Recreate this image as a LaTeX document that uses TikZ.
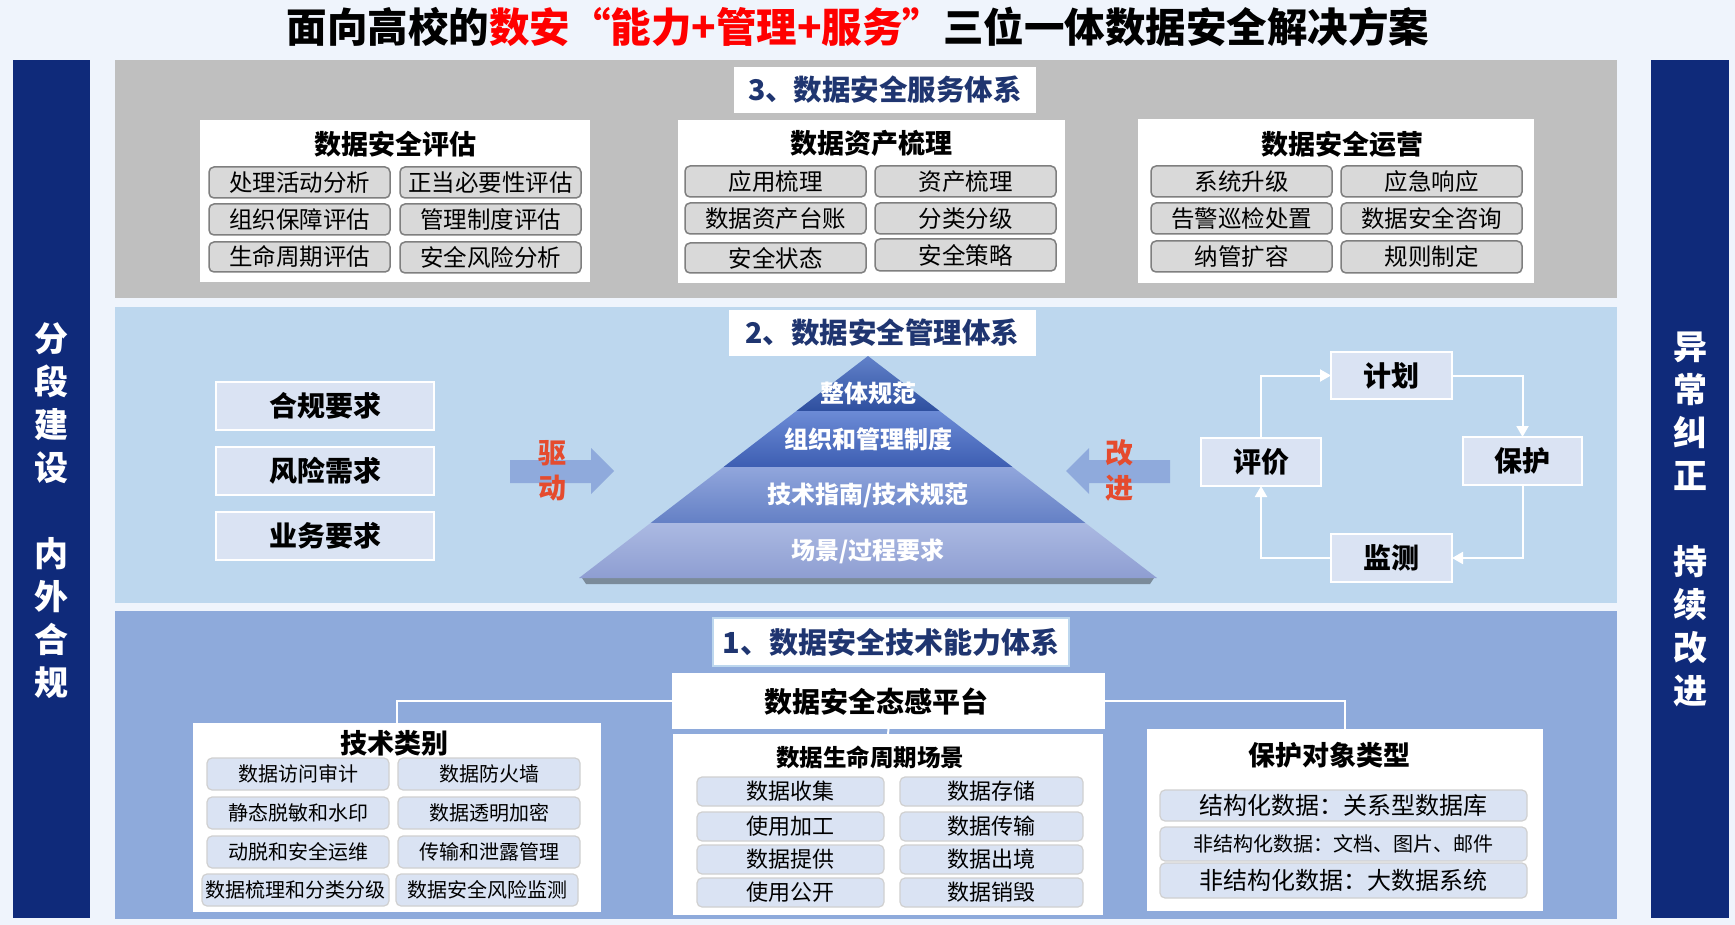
\documentclass[tikz,border=0pt]{standalone}
\usepackage{fontspec}
\setmainfont{Noto Sans CJK SC}
\usetikzlibrary{arrows.meta}
\definecolor{bgc}{HTML}{EFF4FC}
\definecolor{barc}{HTML}{0F2A7A}
\definecolor{topp}{HTML}{BFBFBF}
\definecolor{midp}{HTML}{BDD7EE}
\definecolor{botp}{HTML}{8EAADB}
\definecolor{pillgray}{HTML}{D9D9D9}
\definecolor{pillborder}{HTML}{7F7F7F}
\definecolor{lightbox}{HTML}{DAE3F3}
\definecolor{pillline}{HTML}{D0D0D0}
\definecolor{navy}{HTML}{1F3570}
\definecolor{titlered}{HTML}{FF0000}
\definecolor{drivered}{HTML}{E54B2E}
\definecolor{arrowc}{HTML}{8FAADC}
\definecolor{pyrA}{HTML}{6282CA}
\definecolor{pyrB}{HTML}{2E4F9F}
\definecolor{pyrC}{HTML}{6C8BD6}
\definecolor{pyrD}{HTML}{3D5EB2}
\definecolor{pyrE}{HTML}{91A6DC}
\definecolor{pyrF}{HTML}{6480C5}
\definecolor{pyrG}{HTML}{ABB9E2}
\definecolor{pyrH}{HTML}{8E9ED2}
\newcommand\mkbox[7]{\node[#6, minimum width={#4-#2}, minimum height={#5-#3}] (#1) at ({(#2+#4)/2},{(#3+#5)/2}) {#7};}
\begin{document}
\begin{tikzpicture}[x=1pt,y=-1pt,
  plain/.style={rectangle, inner sep=0pt, outer sep=0pt},
  whitebox/.style={plain, fill=white},
  secttitle/.style={plain, fill=white, text=navy, font=\bfseries\fontsize{28.5}{30}\selectfont},
  boxtitle/.style={inner sep=0pt, font=\bfseries\fontsize{27}{30}\selectfont},
  graypill/.style={plain, rounded corners=5pt, fill=pillgray, draw=pillborder, line width=1.5pt, font=\fontsize{23.5}{25}\selectfont},
  bluepill/.style={plain, rounded corners=5pt, fill=lightbox, draw=pillline, line width=1.2pt, font=\fontsize{20}{22}\selectfont},
  lifepill/.style={bluepill, font=\fontsize{22}{24}\selectfont},
  reqbox/.style={plain, fill=lightbox, draw=white, line width=2pt, font=\bfseries\fontsize{28}{30}\selectfont},
  pyrtext/.style={inner sep=0pt, text=white, font=\bfseries\fontsize{24}{26}\selectfont},
  redtext/.style={inner sep=0pt, text=drivered, font=\bfseries\fontsize{28}{30}\selectfont},
  cyc/.style={draw=white, line width=2pt, -{Triangle[length=11pt,width=12pt]}},
  conn/.style={draw=white, line width=2pt},
  sidetext/.style={inner sep=0pt, text=white, align=center, font=\bfseries\fontsize{34}{43}\selectfont}
]
\useasboundingbox (0,0) rectangle (1735,925);
\fill[bgc] (0,0) rectangle (1735,925);

% title
\node[inner sep=0pt, font=\bfseries\fontsize{40.5}{44}\selectfont] (title) at (858,27) {面向高校的{\color{titlered}数安“能力+管理+服务”}三位一体数据安全解决方案};

% side bars
\mkbox{leftbar}{13}{60}{90}{918}{plain, fill=barc}{}
\mkbox{rightbar}{1651}{60}{1729}{918}{plain, fill=barc}{}
\node[sidetext] (lefttext) at (51.5,511) {分\\段\\建\\设\\[43pt]内\\外\\合\\规};
\node[sidetext] (righttext) at (1690,519.5) {异\\常\\纠\\正\\[43pt]持\\续\\改\\进};

% panels
\mkbox{toppanel}{115}{60}{1617}{298}{plain, fill=topp}{}
\mkbox{midpanel}{115}{307}{1617}{603}{plain, fill=midp}{}
\mkbox{botpanel}{115}{611}{1617}{919}{plain, fill=botp}{}

% ===== 3 service =====
\mkbox{sec3}{734}{67}{1036}{113}{secttitle}{3、数据安全服务体系}

\mkbox{evalbox}{200}{120}{590}{282}{whitebox}{}
\node[boxtitle] (evaltitle) at (395,144) {数据安全评估};
\mkbox{ev1}{209}{167}{390}{198}{graypill}{处理活动分析}
\mkbox{ev2}{400}{167}{581}{198}{graypill}{正当必要性评估}
\mkbox{ev3}{209}{204}{390}{235}{graypill}{组织保障评估}
\mkbox{ev4}{400}{204}{581}{235}{graypill}{管理制度评估}
\mkbox{ev5}{209}{242}{390}{272}{graypill}{生命周期评估}
\mkbox{ev6}{400}{242}{581}{273}{graypill}{安全风险分析}

\mkbox{assetbox}{678}{120}{1065}{283}{whitebox}{}
\node[boxtitle] (assettitle) at (871,143) {数据资产梳理};
\mkbox{as1}{685}{166}{866}{197}{graypill}{应用梳理}
\mkbox{as2}{875}{166}{1056}{197}{graypill}{资产梳理}
\mkbox{as3}{685}{203}{866}{234}{graypill}{数据资产台账}
\mkbox{as4}{875}{203}{1056}{234}{graypill}{分类分级}
\mkbox{as5}{685}{243}{866}{273}{graypill}{安全状态}
\mkbox{as6}{875}{239}{1056}{271}{graypill}{安全策略}

\mkbox{opbox}{1138}{119}{1534}{283}{whitebox}{}
\node[boxtitle] (optitle) at (1342,144) {数据安全运营};
\mkbox{op1}{1151}{166}{1332}{197}{graypill}{系统升级}
\mkbox{op2}{1341}{166}{1522}{197}{graypill}{应急响应}
\mkbox{op3}{1151}{203}{1332}{234}{graypill}{告警巡检处置}
\mkbox{op4}{1341}{203}{1522}{234}{graypill}{数据安全咨询}
\mkbox{op5}{1151}{241}{1332}{272}{graypill}{纳管扩容}
\mkbox{op6}{1341}{241}{1522}{273}{graypill}{规则制定}

% ===== 2 management =====
\mkbox{req1}{216}{382}{434}{430}{reqbox}{合规要求}
\mkbox{req2}{216}{447}{434}{495}{reqbox}{风险需求}
\mkbox{req3}{216}{512}{434}{560}{reqbox}{业务要求}

% drive arrow
\fill[arrowc] (510,460) -- (591,460) -- (591,448) -- (614,471) -- (591,494) -- (591,483) -- (510,483) -- cycle;
\node[redtext] (drive1) at (552,453) {驱};
\node[redtext] (drive2) at (552,488) {动};

% improve arrow
\fill[arrowc] (1170,460) -- (1089,460) -- (1089,448) -- (1066,471) -- (1089,494) -- (1089,483) -- (1170,483) -- cycle;
\node[redtext] (impr1) at (1119,453) {改};
\node[redtext] (impr2) at (1119,488) {进};

% pyramid
\fill[black, opacity=0.35] (582,578) -- (1154,578) -- (1150,584) -- (586,584) -- cycle;
\shade[top color=pyrA, bottom color=pyrB] (868,356) -- (939.6,411) -- (796.4,411) -- cycle;
\shade[top color=pyrC, bottom color=pyrD] (796.4,411) -- (939.6,411) -- (1012.5,467) -- (723.5,467) -- cycle;
\shade[top color=pyrE, bottom color=pyrF] (723.5,467) -- (1012.5,467) -- (1085.4,523) -- (650.6,523) -- cycle;
\shade[top color=pyrG, bottom color=pyrH] (650.6,523) -- (1085.4,523) -- (1157,578) -- (579,578) -- cycle;
\node[pyrtext] (pyr1) at (868,393) {整体规范};
\node[pyrtext] (pyr2) at (868,439) {组织和管理制度};
\node[pyrtext] (pyr3) at (868,495) {技术指南/技术规范};
\node[pyrtext] (pyr4) at (868,551) {场景/过程要求};

\mkbox{sec2}{729}{310}{1036}{356}{secttitle}{2、数据安全管理体系}

% PDCA
\mkbox{pdcaP}{1331}{352}{1452}{399}{reqbox}{计划}
\mkbox{pdcaE}{1201}{438}{1321}{486}{reqbox}{评价}
\mkbox{pdcaR}{1463}{437}{1582}{485}{reqbox}{保护}
\mkbox{pdcaM}{1331}{534}{1452}{582}{reqbox}{监测}
\draw[cyc] (pdcaE.north) |- (pdcaP.west);
\draw[cyc] (pdcaP.east) -| (pdcaR.north);
\draw[cyc] (pdcaR.south) |- (pdcaM.east);
\draw[cyc] (pdcaM.west) -| (pdcaE.south);

% ===== 1 technology =====
\mkbox{sec1}{713}{618}{1069}{666}{secttitle, draw=midp, line width=2.5pt, font=\bfseries\fontsize{29}{31}\selectfont}{1、数据安全技术能力体系}

\mkbox{techbox}{193}{723}{601}{912}{whitebox}{}
\mkbox{protbox}{1147}{729}{1543}{911}{whitebox}{}
\coordinate (bus) at (397,701);
\draw[conn] (techbox.north) -- (techbox.north |- bus) -- (protbox.north |- bus) -- (protbox.north);

\mkbox{plat}{672}{673}{1105}{729}{whitebox}{}
\node[inner sep=0pt, font=\bfseries\fontsize{28}{30}\selectfont] (plattext) at (876,702) {数据安全态感平台};
\mkbox{life}{673}{734}{1103}{915}{whitebox}{}
\draw[conn] (plat.south) -- (life.north);

\node[boxtitle] (techtitle) at (394,743) {技术类别};
\mkbox{tc1}{207}{758}{389}{790}{bluepill}{数据访问审计}
\mkbox{tc2}{398}{758}{580}{790}{bluepill}{数据防火墙}
\mkbox{tc3}{207}{797}{389}{829}{bluepill}{静态脱敏和水印}
\mkbox{tc4}{398}{797}{580}{829}{bluepill}{数据透明加密}
\mkbox{tc5}{207}{836}{389}{868}{bluepill}{动脱和安全运维}
\mkbox{tc6}{398}{836}{580}{868}{bluepill}{传输和泄露管理}
\mkbox{tc7}{202}{874}{389}{906}{bluepill}{数据梳理和分类分级}
\mkbox{tc8}{396}{874}{578}{906}{bluepill}{数据安全风险监测}

\node[boxtitle, font=\bfseries\fontsize{23.5}{26}\selectfont] (lifetitle) at (870,757) {数据生命周期场景};
\mkbox{lf1}{697}{777}{884}{806}{lifepill}{数据收集}
\mkbox{lf2}{900}{777}{1083}{806}{lifepill}{数据存储}
\mkbox{lf3}{697}{812}{884}{841}{lifepill}{使用加工}
\mkbox{lf4}{900}{812}{1083}{841}{lifepill}{数据传输}
\mkbox{lf5}{697}{845}{884}{874}{lifepill}{数据提供}
\mkbox{lf6}{900}{845}{1083}{874}{lifepill}{数据出境}
\mkbox{lf7}{697}{878}{884}{907}{lifepill}{使用公开}
\mkbox{lf8}{900}{878}{1083}{907}{lifepill}{数据销毁}

\node[boxtitle] (prottitle) at (1329,755) {保护对象类型};
\mkbox{pt1}{1160}{790}{1527}{821}{bluepill, font=\fontsize{24}{26}\selectfont}{结构化数据：关系型数据库}
\mkbox{pt2}{1160}{827}{1527}{861}{bluepill, font=\fontsize{20}{22}\selectfont}{非结构化数据：文档、图片、邮件}
\mkbox{pt3}{1160}{863}{1527}{898}{bluepill, font=\fontsize{24}{26}\selectfont}{非结构化数据：大数据系统}
\end{tikzpicture}
\end{document}
